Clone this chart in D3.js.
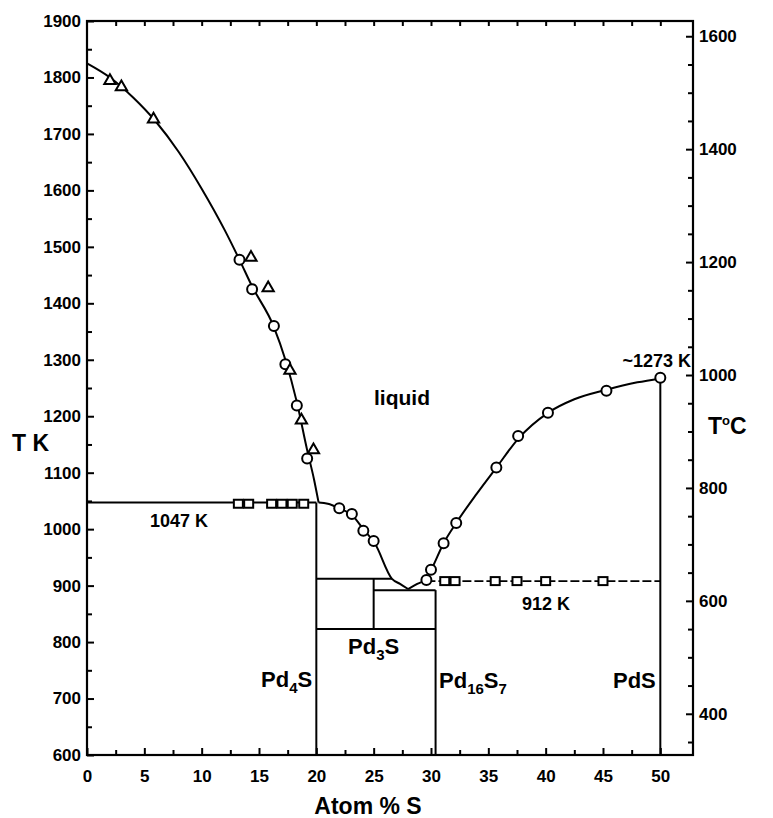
<!DOCTYPE html>
<html>
<head>
<meta charset="utf-8">
<script src="https://cdn.jsdelivr.net/npm/d3@7"></script>
<style>
  body { margin: 0; background: #fff; }
  svg { display: block; }
  text { font-family: "Liberation Sans", Arial, sans-serif; font-weight: bold; fill: #000; }
</style>
</head>
<body>
<svg id="chart" width="773" height="818"></svg>
<script>
// ---------- data ----------
const xTicksMajor = [0, 5, 10, 15, 20, 25, 30, 35, 40, 45, 50];
const yTicksK = [600, 700, 800, 900, 1000, 1100, 1200, 1300, 1400, 1500, 1600, 1700, 1800, 1900];
const yTicksC = [400, 600, 800, 1000, 1200, 1400, 1600];

// liquidus, Pd-rich branch (atom % S, T K)
const liquidusLeft = [
  [0, 1825], [2, 1800], [4, 1765], [6, 1722], [8, 1668], [10, 1603], [12, 1530],
  [13.3, 1477], [14.4, 1430], [16.3, 1358], [17.3, 1300], [18.3, 1225], [19.2, 1140],
  [19.8, 1088], [20.2, 1047]
];
// liquidus between Pd4S and eutectic
const liquidusMid = [
  [20.2, 1047], [21, 1045], [22, 1037], [23.1, 1025], [24.1, 1000], [25.1, 975],
  [26.6, 912], [27.3, 903], [28, 894]
];
// liquidus, S-rich branch up to PdS
const liquidusRight = [
  [28, 894], [28.8, 903], [29.6, 912], [30, 927], [31.1, 975], [32.2, 1011], [34, 1063],
  [35.7, 1109], [37.6, 1160], [40.2, 1206], [42.5, 1230], [45.3, 1247], [48, 1260], [50, 1267]
];

// phase boundary segments [x1, T1, x2, T2]
const phaseLines = [
  [0, 1047, 20, 1047],
  [20, 600, 20, 1047],
  [20, 912, 26.6, 912],
  [25, 823, 25, 912],
  [20, 823, 30.4, 823],
  [25, 892, 30.4, 892],
  [30.4, 600, 30.4, 892],
  [50, 600, 50, 1267]
];
const line912 = [[29.6, 908], [50, 908]];

const circlePts = [
  [13.3, 1477], [14.4, 1425], [16.3, 1360], [17.3, 1292], [18.3, 1219], [19.2, 1125],
  [22.0, 1037], [23.1, 1027], [24.1, 997], [25.0, 979],
  [29.6, 910], [30.0, 928], [31.1, 975], [32.2, 1011], [35.7, 1109], [37.6, 1165],
  [40.2, 1206], [45.3, 1245], [50.0, 1268]
];
const trianglePts = [
  [2.0, 1794], [3.0, 1783], [5.8, 1726], [14.3, 1481], [15.8, 1427], [17.7, 1281],
  [18.7, 1193], [19.75, 1140]
];
const squarePts = [
  [13.2, 1045], [14.1, 1045], [16.1, 1045], [17.0, 1045], [17.9, 1045], [18.9, 1045],
  [31.2, 908], [32.1, 908], [35.6, 908], [37.5, 908], [40.0, 908], [45.0, 908]
];

// ---------- scales ----------
const svg = d3.select("#chart");
const X0 = 87, X1 = 693, Y0 = 755, Y1 = 21;
const x = d3.scaleLinear().domain([0, 52.85]).range([X0, X1]);
const y = d3.scaleLinear().domain([600, 1900]).range([Y0, Y1]);
const yC = d3.scaleLinear().domain([600 - 273, 1900 - 273]).range([Y0, Y1]);

// ---------- axes ----------
function styleAxis(g) {
  g.select(".domain").remove();
  g.selectAll(".tick line").attr("stroke", "#000").attr("stroke-width", 2);
  g.selectAll(".tick text").style("font-size", "17px").attr("fill", "#000");
}
const minorK = d3.range(650, 1900, 100);
const minorC = d3.range(350, 1650, 50).filter(v => v % 200 !== 0);
const minorX = d3.range(2.5, 52.5, 5);

svg.append("g").attr("transform", `translate(${X0},0)`)
  .call(d3.axisLeft(y).tickValues(yTicksK).tickSizeInner(-7).tickSizeOuter(0).tickPadding(6).tickFormat(d3.format("d")))
  .call(styleAxis);
svg.append("g").attr("transform", `translate(${X0},0)`)
  .call(d3.axisLeft(y).tickValues(minorK).tickSizeInner(-5).tickSizeOuter(0).tickFormat(""))
  .call(styleAxis);

svg.append("g").attr("transform", `translate(${X1},0)`)
  .call(d3.axisRight(yC).tickValues(yTicksC).tickSizeInner(-7).tickSizeOuter(0).tickPadding(6).tickFormat(d3.format("d")))
  .call(styleAxis);
svg.append("g").attr("transform", `translate(${X1},0)`)
  .call(d3.axisRight(yC).tickValues(minorC).tickSizeInner(-5).tickSizeOuter(0).tickFormat(""))
  .call(styleAxis);

svg.append("g").attr("transform", `translate(0,${Y0})`)
  .call(d3.axisBottom(x).tickValues(xTicksMajor).tickSizeInner(-7).tickSizeOuter(0).tickPadding(15).tickFormat(d3.format("d")))
  .call(styleAxis);
svg.append("g").attr("transform", `translate(0,${Y0})`)
  .call(d3.axisBottom(x).tickValues(minorX).tickSizeInner(-5).tickSizeOuter(0).tickFormat(""))
  .call(styleAxis);
svg.append("g").attr("transform", `translate(0,${Y1})`)
  .call(d3.axisTop(x).tickValues(d3.range(2.5, 52.5, 2.5)).tickSizeInner(-5).tickSizeOuter(0).tickFormat(""))
  .call(styleAxis);

// frame
svg.append("rect").attr("x", X0).attr("y", Y1).attr("width", X1 - X0).attr("height", Y0 - Y1)
  .attr("fill", "none").attr("stroke", "#000").attr("stroke-width", 2.2);

// ---------- phase lines ----------
svg.append("g").selectAll("line").data(phaseLines).join("line")
  .attr("x1", d => x(d[0])).attr("y1", d => y(d[1]))
  .attr("x2", d => x(d[2])).attr("y2", d => y(d[3]))
  .attr("stroke", "#000").attr("stroke-width", 2);

const lineGen = d3.line().x(d => x(d[0])).y(d => y(d[1]));
svg.append("path").datum(line912).attr("d", lineGen)
  .attr("fill", "none").attr("stroke", "#000").attr("stroke-width", 1.8).attr("stroke-dasharray", "9,3");

const curveGen = d3.line().x(d => x(d[0])).y(d => y(d[1])).curve(d3.curveMonotoneX);
[liquidusLeft, liquidusMid, liquidusRight].forEach(pts => {
  svg.append("path").datum(pts).attr("d", curveGen)
    .attr("fill", "none").attr("stroke", "#000").attr("stroke-width", 2);
});

// ---------- markers ----------
svg.append("g").selectAll("circle").data(circlePts).join("circle")
  .attr("cx", d => x(d[0])).attr("cy", d => y(d[1])).attr("r", 5)
  .attr("fill", "#fff").attr("stroke", "#000").attr("stroke-width", 2);

const tri = d3.symbol().type(d3.symbolTriangle).size(55);
svg.append("g").selectAll("path").data(trianglePts).join("path")
  .attr("transform", d => `translate(${x(d[0])},${y(d[1])})`)
  .attr("d", tri).attr("fill", "#fff").attr("stroke", "#000").attr("stroke-width", 2);

svg.append("g").selectAll("rect").data(squarePts).join("rect")
  .attr("x", d => x(d[0]) - 4.5).attr("y", d => y(d[1]) - 4)
  .attr("width", 9).attr("height", 8)
  .attr("fill", "#fff").attr("stroke", "#000").attr("stroke-width", 2);

// ---------- labels ----------
function label(txt, px, py, size, anchor) {
  return svg.append("text").attr("x", px).attr("y", py)
    .attr("text-anchor", anchor || "start").style("font-size", size + "px").text(txt);
}
label("liquid", 374, 405, 21);
label("1047 K", 150, 527, 18);
label("912 K", 522, 610, 18);
label("~1273 K", 691, 367, 18, "end");
label("T K", 12, 451, 23);
label("Atom % S", 368, 814, 23, "middle");

// T °C
const tc = svg.append("text").attr("x", 708).attr("y", 434).style("font-size", "23px");
tc.append("tspan").text("T");
tc.append("tspan").attr("dy", -9).style("font-size", "13px").text("o");
tc.append("tspan").attr("dy", 9).text("C");

function formula(parts, px, py) {
  const t = svg.append("text").attr("x", px).attr("y", py).style("font-size", "22px");
  parts.forEach(p => {
    if (p.sub) t.append("tspan").attr("dy", 6).style("font-size", "15px").text(p.s);
    else t.append("tspan").attr("dy", p.back ? -6 : 0).text(p.s);
  });
  return t;
}
formula([{s: "Pd"}, {s: "4", sub: true}, {s: "S", back: true}], 261, 687);
formula([{s: "Pd"}, {s: "3", sub: true}, {s: "S", back: true}], 348, 654);
formula([{s: "Pd"}, {s: "16", sub: true}, {s: "S", back: true}, {s: "7", sub: true}], 439, 688);
formula([{s: "PdS"}], 613, 688);
</script>
</body>
</html>
